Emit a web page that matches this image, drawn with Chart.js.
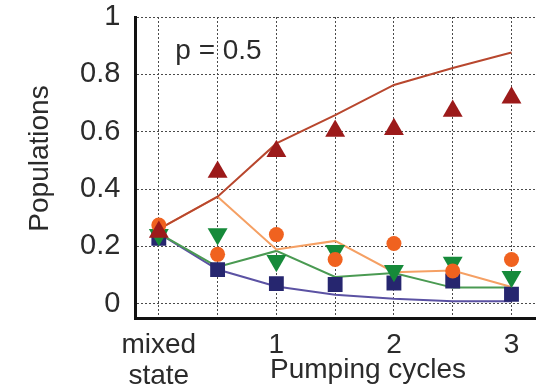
<!DOCTYPE html>
<html>
<head>
<meta charset="utf-8">
<script src="https://cdn.jsdelivr.net/npm/chart.js@4/dist/chart.umd.min.js"></script>
<style>
  html, body { margin: 0; padding: 0; background: #fff; }
  #wrap { width: 550px; height: 390px; }
</style>
</head>
<body>
<div id="wrap"><canvas id="populacoes"></canvas></div>
<script>
// Ciclos de bombeamento (0 = estado misto)
const ciclos = [0, 0.5, 1, 1.5, 2, 2.5, 3];

// Curvas teoricas
const linhaVermelha = [0.26, 0.373, 0.559, 0.658, 0.763, 0.822, 0.876];
const linhaLaranja = [0.26, 0.373, 0.189, 0.219, 0.11, 0.116, 0.058];
const linhaVerde = [0.245, 0.128, 0.184, 0.093, 0.107, 0.056, 0.056];
const linhaAzul = [0.245, 0.119, 0.06, 0.031, 0.017, 0.008, 0.008];

// Pontos medidos
const pontosVermelhos = [0.25, 0.459, 0.532, 0.602, 0.608, 0.672, 0.718];
const pontosLaranja = [0.274, 0.172, 0.241, 0.154, 0.21, 0.114, 0.154];
const pontosVerdes = [0.24, 0.243, 0.15, 0.185, 0.115, 0.144, 0.094];
const pontosAzuis = [0.228, 0.119, 0.07, 0.067, 0.072, 0.079, 0.033];

const yTicks = [0, 0.2, 0.4, 0.6, 0.8, 1];

const FONTE = "'Liberation Sans', Arial, Helvetica, sans-serif";
const COR_TEXTO = "#2b2b2b";
const COR_GRADE = "#4a4a4a";

function serie(valores) {
  return valores.map((v, i) => ({ x: ciclos[i], y: v }));
}

function linha(valores, cor) {
  return {
    data: serie(valores),
    borderColor: cor,
    borderWidth: 2,
    pointRadius: 0,
    showLine: true,
    tension: 0,
    order: 10,
  };
}

function pontos(valores, cor, estilo, raio, rotacao, ordem) {
  return {
    data: serie(valores),
    showLine: false,
    pointStyle: estilo,
    pointRadius: raio,
    pointRotation: rotacao || 0,
    pointBackgroundColor: cor,
    pointBorderColor: cor,
    pointBorderWidth: 0,
    order: ordem,
  };
}

// Textos livres: rotulos dos eixos e anotacao do parametro
const textosExtras = {
  id: "textosExtras",
  afterDraw(chart) {
    const { ctx, chartArea, scales } = chart;
    ctx.save();
    ctx.fillStyle = COR_TEXTO;
    ctx.font = "28px " + FONTE;

    // p = 0.5
    ctx.textAlign = "left";
    ctx.textBaseline = "alphabetic";
    ctx.fillText("p = 0.5", scales.x.getPixelForValue(0.14), scales.y.getPixelForValue(0.854));

    // titulo do eixo x, na mesma linha de "state"
    ctx.textAlign = "center";
    ctx.fillText("Pumping cycles", scales.x.getPixelForValue(1.78), chartArea.bottom + 60);

    // titulo do eixo y
    ctx.translate(40, (chartArea.top + chartArea.bottom) / 2 - 9);
    ctx.rotate(-Math.PI / 2);
    ctx.textBaseline = "middle";
    ctx.fillText("Populations", 0, 0);
    ctx.restore();
  },
};

new Chart(document.getElementById("populacoes").getContext("2d"), {
  type: "line",
  data: {
    datasets: [
      linha(linhaVermelha, "#b8472e"),
      linha(linhaLaranja, "#f5a064"),
      linha(linhaVerde, "#4a9a52"),
      linha(linhaAzul, "#5b52a3"),
      pontos(pontosAzuis, "#26266f", "rect", 10.5, 0, 4),
      pontos(pontosVerdes, "#168a3a", "triangle", 11.5, 180, 3),
      pontos(pontosLaranja, "#f0621f", "circle", 7.5, 0, 2),
      pontos(pontosVermelhos, "#9c1a1a", "triangle", 11.5, 0, 1),
    ],
  },
  options: {
    responsive: true,
    maintainAspectRatio: false,
    animation: false,
    events: [],
    layout: { autoPadding: false, padding: { left: 65, right: 15, top: 0, bottom: 0 } },
    plugins: {
      legend: { display: false },
      tooltip: { enabled: false },
    },
    scales: {
      x: {
        type: "linear",
        min: -0.2,
        max: 3.2,
        border: { display: true, color: "#111", width: 3, dash: [2, 2] },
        grid: {
          color: COR_GRADE,
          lineWidth: 1,
          drawTicks: false,
        },
        ticks: {
          stepSize: 0.5,
          includeBounds: false,
          maxRotation: 0,
          autoSkip: false,
          padding: 12,
          color: COR_TEXTO,
          font: { family: FONTE, size: 28, lineHeight: 1.1 },
          callback: (v) => {
            if (v === 0) return ["mixed", "state"];
            return Number.isInteger(v) ? String(v) : "";
          },
        },
        // altura fixa: rotulos em duas linhas + titulo ao lado de "state"
        afterFit: (escala) => {
          escala.height = 72;
        },
      },
      y: {
        min: -0.05,
        max: 1,
        border: { display: true, color: "#111", width: 3, dash: [2, 2] },
        grid: {
          color: COR_GRADE,
          lineWidth: 1,
          drawTicks: false,
        },
        ticks: {
          stepSize: 0.2,
          includeBounds: false,
          padding: 15,
          color: COR_TEXTO,
          font: { family: FONTE, size: 29 },
          callback: (v) => (yTicks.some((t) => Math.abs(t - v) < 1e-9) ? String(+v.toFixed(1)) : ""),
        },
        afterFit: (escala) => {
          escala.paddingTop = 17;
        },
      },
    },
  },
  plugins: [textosExtras],
});
</script>
</body>
</html>
